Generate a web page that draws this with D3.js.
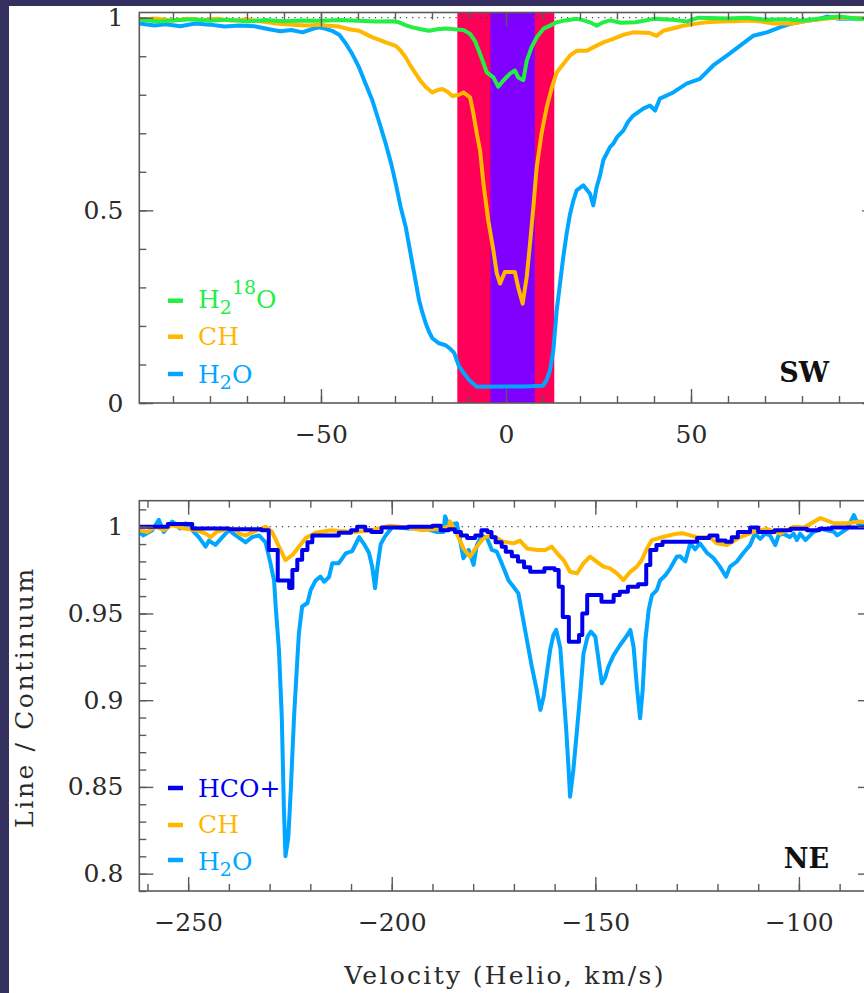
<!DOCTYPE html>
<html><head><meta charset="utf-8">
<script src="https://cdn.jsdelivr.net/npm/d3@7"></script>
<style>html,body{margin:0;padding:0;background:#fff;}svg{display:block;}</style>
</head><body>
<script>
// ---------- DATA ----------
// SW panel (top)
const swH2O_v = [-99,-95,-92,-88,-84,-80,-76,-72,-68,-64,-61,-58,-55,-52,-50.5,-49,-47,-45,-43.3,-41.5,-39.7,-38,-36.1,-34.3,-32.5,-31,-29.8,-28.5,-27.1,-26.2,-25.3,-24.4,-23.5,-22.6,-21.7,-20.8,-19.9,-18.1,-16.3,-15,-14,-12.7,-11.6,-10,-7.9,0,5,10,11,11.9,12.8,13.7,14.6,15.5,16.4,17.3,18.2,19.1,20.9,22.7,23.6,24.5,25.4,26.3,28.1,29,30,31.7,33,34.4,37.1,38.9,40.3,41.6,45.2,48.8,52.4,56,59.6,63.2,66.8,70.5,74,76.8,81.3,84,86.7,90,95,100];
const swH2O = [0.985,0.98,0.983,0.978,0.985,0.982,0.977,0.98,0.978,0.97,0.965,0.968,0.962,0.972,0.975,0.972,0.966,0.955,0.933,0.905,0.871,0.83,0.785,0.73,0.673,0.62,0.57,0.51,0.457,0.41,0.362,0.315,0.267,0.235,0.207,0.185,0.168,0.155,0.15,0.14,0.13,0.095,0.08,0.06,0.042,0.043,0.043,0.045,0.06,0.085,0.137,0.24,0.31,0.38,0.44,0.49,0.525,0.552,0.565,0.543,0.513,0.56,0.59,0.63,0.664,0.673,0.69,0.707,0.73,0.746,0.764,0.772,0.759,0.79,0.806,0.829,0.841,0.876,0.901,0.927,0.953,0.962,0.975,0.984,0.992,0.995,1.003,0.997,0.998,0.997];
const swCH_v = [-99,-95,-90,-86,-82,-78,-74,-70,-66,-62,-58,-54,-50,-48.7,-45.1,-42.4,-39.7,-38,-36.1,-34,-32.5,-29.8,-28.5,-27.1,-25.8,-24.4,-23,-21.7,-19.9,-18.5,-17.2,-15.8,-14.5,-12.7,-11.5,-9.7,-8.8,-7.9,-7,-6.1,-4.8,-3.4,-2.5,-1.6,-0.3,1.1,2.4,3.3,4.5,5.6,6.5,7.4,8.3,9.6,11,12.4,13.7,15.5,17.3,19.1,21.8,23.6,26.3,29,31.5,34.4,38.9,40.7,42.5,45,47.9,51,54.2,58,61.4,65.9,69,72.2,77.6,82,88.3,92,96,100];
const swCH = [0.995,0.998,0.993,0.997,0.994,0.997,0.992,0.996,0.99,0.985,0.982,0.98,0.982,0.98,0.977,0.97,0.966,0.958,0.949,0.942,0.936,0.927,0.915,0.897,0.875,0.855,0.835,0.82,0.806,0.812,0.815,0.808,0.797,0.8,0.806,0.793,0.751,0.7,0.655,0.57,0.474,0.396,0.337,0.31,0.34,0.34,0.34,0.3,0.258,0.327,0.414,0.508,0.612,0.699,0.767,0.819,0.858,0.88,0.902,0.914,0.914,0.923,0.936,0.945,0.955,0.962,0.96,0.953,0.966,0.972,0.979,0.984,0.988,0.99,0.991,0.993,0.99,0.985,0.985,0.993,0.999,1.0,0.998,1.0];
const swH218O_v = [-99,-94,-90,-85,-80,-75,-70,-65,-60,-55,-50,-45,-40,-35,-30.5,-28.9,-27,-25.3,-23,-20.8,-18.5,-16.3,-14,-11.5,-9.7,-8.4,-7,-6,-5.2,-3.4,-2.1,-0.7,1.1,2.4,3.3,4.7,5.6,6.9,8.3,10.1,12,13.7,16,19.1,21,22.7,24.5,26.3,28.1,31,35,40,45,48.8,52,60,65,70,75,80,85,90,95,100];
const swH218O = [0.995,0.99,0.993,0.996,0.992,0.995,0.99,0.994,0.991,0.993,0.992,0.994,0.992,0.99,0.991,0.988,0.98,0.975,0.97,0.966,0.97,0.972,0.97,0.968,0.958,0.94,0.906,0.88,0.858,0.845,0.821,0.837,0.855,0.863,0.845,0.838,0.888,0.923,0.949,0.971,0.98,0.988,0.993,0.997,0.993,0.988,0.979,0.988,0.993,0.987,0.988,0.997,0.995,0.99,1.0,0.998,1.0,0.995,0.996,0.993,0.998,1.003,0.997,0.998];
const swBandOuter = [-13.15, 13.05];
const swBandInner = [-4.2, 7.8];

// NE panel (bottom)
const neHCO_v = [-262,-255,-249,-240,-232,-230.2,-228,-225.2,-224.4,-223.2,-222,-220.7,-219.5,-213,-210,-208.5,-206.5,-205,-202.5,-196,-190,-188,-186,-184.5,-183,-181.5,-179.5,-178,-176.5,-175.5,-174.5,-173,-172,-170.5,-169,-167.5,-166,-162.5,-160,-159,-158,-156.5,-154,-153.2,-152,-148.5,-145.5,-144,-142,-139.5,-137.5,-136.5,-135,-133.5,-125,-122,-120,-118,-116.5,-115,-112,-110,-106,-102,-98,-95,-92,-82];
const neHCO = [1.0,1.0015,0.999,0.9985,0.998,0.9866,0.969,0.9647,0.975,0.981,0.9866,0.991,0.995,0.9965,0.998,1.0,0.998,0.997,0.9995,1.0,1.0005,0.998,0.9985,0.997,0.995,0.9935,0.995,0.998,0.997,0.994,0.991,0.9885,0.9856,0.983,0.98,0.9766,0.974,0.976,0.975,0.9654,0.948,0.9337,0.9376,0.95,0.9606,0.9568,0.9606,0.9625,0.9654,0.9668,0.978,0.9866,0.9894,0.9914,0.9935,0.995,0.992,0.9914,0.994,0.997,0.9996,0.997,0.998,0.9988,0.998,0.9988,0.9995,0.9995];
const neCH_v = [-262,-260,-258,-256,-254,-251,-248,-245.7,-244.5,-243,-240,-238,-237.5,-235.9,-234,-231,-229.4,-227.7,-226.1,-224.4,-222.8,-221.1,-218.7,-215,-213,-209,-205,-200.7,-196,-192.5,-188,-186,-185.7,-184,-182.4,-180.8,-179.1,-177.5,-175.8,-174.2,-172.6,-170.1,-168.5,-166.8,-164.4,-162.3,-160.7,-159,-157.8,-156.2,-154.5,-152.9,-151.3,-149.6,-148,-146.4,-144.7,-143.1,-141.4,-139.8,-138.6,-137.3,-136.1,-133.2,-130,-128.4,-125.1,-121.9,-120.2,-117.7,-114.4,-111.1,-107.9,-104.6,-101.3,-98.8,-94.7,-91.4,-88.2,-84.9,-82];
const neCH = [0.998,0.997,1.0,0.998,1.001,0.999,0.998,0.996,0.994,0.997,0.999,0.998,0.996,0.995,0.997,1.0,0.997,0.9885,0.9808,0.9837,0.9885,0.9935,0.9965,0.998,0.9975,0.997,0.998,1.0005,0.9995,0.998,0.999,1.0,1.003,0.996,0.9875,0.9827,0.9885,0.9933,0.995,0.9935,0.9914,0.9904,0.992,0.9875,0.9866,0.9866,0.9885,0.9837,0.9808,0.974,0.9731,0.979,0.9827,0.9798,0.977,0.976,0.9731,0.9693,0.974,0.977,0.9808,0.9875,0.9923,0.9942,0.996,0.9962,0.994,0.994,0.9904,0.9895,0.994,0.997,0.9988,0.996,1.0,0.9995,1.005,1.002,1.002,1.003,1.002];
const neH2O_v = [-262,-261,-258.8,-257.2,-256,-253.9,-252,-250.6,-249,-247.4,-245.7,-244.9,-243.3,-241.6,-240,-238.3,-235.9,-234.3,-232.6,-231,-229.8,-228.9,-228.5,-227.7,-227,-226.5,-226.1,-225.4,-224.8,-224.4,-224,-223.2,-222.8,-222,-220.7,-219.9,-218.7,-217.5,-216.6,-215.4,-214.6,-213,-211.3,-209.7,-208,-206.8,-205.6,-204.8,-204.1,-203.5,-202.7,-201.5,-199.8,-196,-192,-189,-187.3,-186.9,-186.1,-184,-183.2,-182.4,-181.1,-179.9,-179.1,-177.9,-176.6,-175.4,-174.2,-173,-171.3,-170.1,-168.9,-168,-166.8,-165.6,-164.4,-163.5,-162.7,-161.9,-161.1,-160.3,-159.6,-158.6,-157.8,-157.2,-156.6,-156.2,-155.4,-154.5,-153.7,-152.9,-151.9,-151.1,-150,-149.2,-148.4,-147.6,-146.8,-145.5,-143.9,-142.3,-141.4,-140.6,-139.8,-139,-138.4,-137.7,-136.9,-136.1,-134.9,-134.1,-132.8,-131.6,-130,-129.2,-127.9,-126.7,-125.5,-124.3,-122.6,-121,-119.4,-117.9,-116.9,-115.3,-113.6,-112,-110.8,-109.5,-108.3,-107.1,-105.8,-105,-103.8,-102.2,-101.3,-100.5,-99.7,-98.4,-96.4,-94.7,-91.4,-90.6,-88.2,-86.5,-85.6,-82];
const neH2O = [0.997,0.995,0.998,1.004,0.997,1.003,0.999,1.002,0.998,0.994,0.9885,0.992,0.9895,0.994,0.998,0.995,0.991,0.994,0.995,0.991,0.979,0.969,0.954,0.929,0.89,0.8386,0.81,0.821,0.848,0.869,0.89,0.923,0.9386,0.954,0.956,0.9635,0.969,0.9712,0.9683,0.971,0.979,0.979,0.9846,0.986,0.994,0.99,0.985,0.977,0.9645,0.977,0.99,0.995,1.0,0.999,0.999,0.997,0.997,1.006,1.001,1.002,0.992,0.9818,0.9866,0.978,0.9894,0.995,0.9933,0.9866,0.9856,0.979,0.969,0.9654,0.9616,0.95,0.9347,0.9193,0.906,0.8944,0.902,0.9155,0.929,0.9376,0.9405,0.93,0.904,0.8847,0.8617,0.8444,0.8598,0.8828,0.904,0.927,0.9366,0.9395,0.9366,0.9232,0.9097,0.913,0.9193,0.926,0.9318,0.937,0.9405,0.9308,0.9078,0.8896,0.905,0.9347,0.952,0.9606,0.9635,0.969,0.972,0.976,0.9827,0.983,0.98,0.9904,0.987,0.9904,0.985,0.982,0.977,0.9712,0.977,0.9798,0.985,0.9894,0.996,0.993,0.996,0.995,0.9894,0.995,0.996,0.994,0.996,0.9923,0.996,0.9923,0.997,0.9988,0.997,0.995,0.9988,1.0067,1.002,1.0];

// ticks / labels
const swXMajor = [-50, 0, 50];
const swYMajor = [0, 0.5, 1];
const neXMajor = [-250, -200, -150, -100];
const neYMajor = [0.8, 0.85, 0.9, 0.95, 1];

// ---------- DRAW ----------
const W = 864, H = 993;
const C = {green:"#22ee44", orange:"#ffb700", lblue:"#00a6ff", dblue:"#0000ee", red:"#ff0058", purple:"#7f00ff", axis:"#5a5a5a", text:"#2a2a2a"};
const FONT = "DejaVu Serif";
const svg = d3.select("body").append("svg").attr("width", W).attr("height", H);
svg.append("rect").attr("width", W).attr("height", H).attr("fill", "#33305e");
svg.append("rect").attr("x", 9).attr("y", 6).attr("width", W - 9).attr("height", H - 6).attr("fill", "#fff");

function fmt(d) { return String(+d.toFixed(2)).replace("-", "\u2212"); }

function drawPanel(p) {
  const x = d3.scaleLinear().domain(p.xd).range([p.l, p.r]);
  const y = d3.scaleLinear().domain(p.yd).range([p.b, p.t]);
  const g = svg.append("g");
  const id = "clip" + p.name;
  svg.append("clipPath").attr("id", id).append("rect")
    .attr("x", p.l).attr("y", p.t).attr("width", p.r - p.l).attr("height", p.b - p.t);
  const inner = g.append("g").attr("clip-path", `url(#${id})`);
  (p.bands || []).forEach(bd => {
    inner.append("rect").attr("x", x(bd.range[0])).attr("width", x(bd.range[1]) - x(bd.range[0]))
      .attr("y", p.t).attr("height", p.b - p.t).attr("fill", bd.color);
  });
  inner.append("line").attr("x1", p.l).attr("x2", p.r).attr("y1", y(1)).attr("y2", y(1))
    .attr("stroke", "#444").attr("stroke-width", 1.2).attr("stroke-dasharray", "1.2,5");
  p.series.forEach(s => {
    const line = d3.line().x(d => x(d[0])).y(d => y(d[1])).curve(s.step ? d3.curveStepAfter : d3.curveLinear);
    inner.append("path").datum(d3.zip(s.v, s.y)).attr("d", line).attr("fill", "none")
      .attr("stroke", s.color).attr("stroke-width", 4).attr("stroke-linejoin", "round").attr("stroke-linecap", "round");
  });
  // frame
  g.append("rect").attr("x", p.l).attr("y", p.t).attr("width", p.r - p.l).attr("height", p.b - p.t)
    .attr("fill", "none").attr("stroke", C.axis).attr("stroke-width", 1.6);
  const xMinor = d3.range(Math.ceil(p.xd[0] / p.xm) * p.xm, p.xd[1] + 1e-9, p.xm);
  const yMinor = d3.range(Math.ceil(p.yd[0] / p.ym - 1e-9) * p.ym, p.yd[1] + 1e-9, p.ym).map(v => +v.toFixed(4));
  const style = sel => { sel.select(".domain").remove(); sel.selectAll(".tick line").attr("stroke", C.axis).attr("stroke-width", 1.4);
    sel.selectAll("text").attr("font-family", FONT).attr("font-size", 25).attr("fill", C.text); };
  // bottom
  g.append("g").attr("transform", `translate(0,${p.b})`).call(d3.axisBottom(x).tickValues(xMinor).tickSize(-7).tickFormat("")).call(style);
  g.append("g").attr("transform", `translate(0,${p.b})`).call(d3.axisBottom(x).tickValues(p.xMajor).tickSize(-14).tickPadding(22).tickFormat(fmt)).call(style);
  // top
  g.append("g").attr("transform", `translate(0,${p.t})`).call(d3.axisTop(x).tickValues(xMinor).tickSize(-7).tickFormat("")).call(style);
  g.append("g").attr("transform", `translate(0,${p.t})`).call(d3.axisTop(x).tickValues(p.xMajor.concat(p.xExtraMajor || [])).tickSize(-14).tickFormat("")).call(style);
  // left
  g.append("g").attr("transform", `translate(${p.l},0)`).call(d3.axisLeft(y).tickValues(yMinor).tickSize(-7).tickFormat("")).call(style);
  g.append("g").attr("transform", `translate(${p.l},0)`).call(d3.axisLeft(y).tickValues(p.yMajor).tickSize(-14).tickPadding(16).tickFormat(fmt)).call(style);
  // right
  g.append("g").attr("transform", `translate(${p.r},0)`).call(d3.axisRight(y).tickValues(yMinor).tickSize(-7).tickFormat("")).call(style);
  g.append("g").attr("transform", `translate(${p.r},0)`).call(d3.axisRight(y).tickValues(p.yMajor).tickSize(-14).tickFormat("")).call(style);
  // legend
  p.legend.forEach(it => {
    g.append("line").attr("x1", 168).attr("x2", 183).attr("y1", it.ly).attr("y2", it.ly)
      .attr("stroke", it.color).attr("stroke-width", 4.5);
    const t = g.append("text").attr("x", 198).attr("y", it.ty).attr("font-family", FONT).attr("font-size", 25).attr("fill", it.color);
    it.parts.forEach(pt => {
      const ts = t.append("tspan").text(pt.t);
      if (pt.dy) ts.attr("dy", pt.dy);
      if (pt.fs) ts.attr("font-size", pt.fs);
    });
  });
  g.append("text").attr("x", 829).attr("y", p.tagY).attr("text-anchor", "end").attr("font-family", FONT)
    .attr("font-weight", "bold").attr("font-size", 27).attr("fill", "#111").text(p.name);
}

drawPanel({
  name: "SW", l: 139.3, r: 876, t: 12.5, b: 403, xd: [-99.1, 100], yd: [0, 1.0135], xm: 10, ym: 0.1,
  xMajor: swXMajor, xExtraMajor: [100], yMajor: swYMajor, tagY: 382,
  bands: [{range: swBandOuter, color: C.red}, {range: swBandInner, color: C.purple}],
  series: [
    {v: swH2O_v, y: swH2O, color: C.lblue},
    {v: swCH_v, y: swCH, color: C.orange},
    {v: swH218O_v, y: swH218O, color: C.green}
  ],
  legend: [
    {color: C.green, ly: 300.7, ty: 308, parts: [{t: "H"}, {t: "2", dy: 6, fs: 19}, {t: "18", dy: -20, fs: 19}, {t: "O", dy: 14}]},
    {color: C.orange, ly: 336.7, ty: 345, parts: [{t: "CH"}]},
    {color: C.lblue, ly: 374, ty: 383, parts: [{t: "H"}, {t: "2", dy: 6, fs: 19}, {t: "O", dy: -6}]}
  ]
});

drawPanel({
  name: "NE", l: 139.3, r: 872, t: 500.7, b: 891, xd: [-262, -82.05], yd: [0.79, 1.015], xm: 10, ym: 0.01,
  xMajor: neXMajor, yMajor: neYMajor, tagY: 868,
  series: [
    {v: neH2O_v, y: neH2O, color: C.lblue},
    {v: neCH_v, y: neCH, color: C.orange},
    {v: neHCO_v, y: neHCO, color: C.dblue, step: true}
  ],
  legend: [
    {color: C.dblue, ly: 788, ty: 796.5, parts: [{t: "HCO+"}]},
    {color: C.orange, ly: 825, ty: 833, parts: [{t: "CH"}]},
    {color: C.lblue, ly: 860, ty: 870, parts: [{t: "H"}, {t: "2", dy: 6, fs: 19}, {t: "O", dy: -6}]}
  ]
});

svg.append("text").attr("transform", "translate(33,697) rotate(-90)").attr("text-anchor", "middle")
  .attr("font-family", FONT).attr("font-size", 25).attr("letter-spacing", 2.6).attr("fill", C.text).text("Line / Continuum");
svg.append("text").attr("x", 505).attr("y", 984).attr("text-anchor", "middle")
  .attr("font-family", FONT).attr("font-size", 25).attr("letter-spacing", 2.3).attr("fill", C.text).text("Velocity (Helio, km/s)");
</script>
</body></html>
